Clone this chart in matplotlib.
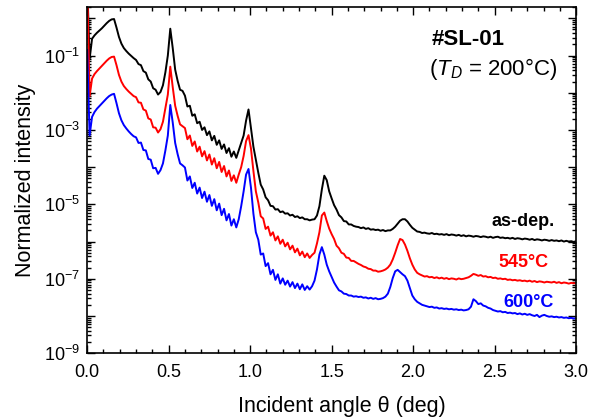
import numpy as np
import matplotlib
matplotlib.use("Agg")
import matplotlib.pyplot as plt
from matplotlib.ticker import FixedLocator, LogLocator, FuncFormatter, MultipleLocator

plt.rcParams['font.family'] = ['Liberation Sans', 'DejaVu Sans']
plt.rcParams['mathtext.fontset'] = 'custom'
plt.rcParams['mathtext.rm'] = 'Liberation Sans'
plt.rcParams['mathtext.it'] = 'Liberation Sans:italic'
plt.rcParams['mathtext.bf'] = 'Liberation Sans:bold'

# incident angle grid (deg), one sample every 0.015 deg
theta = np.round(np.arange(201) * 0.015, 3)

# log10 of normalized intensity
as_dep = [
    1.0, -1.10, -0.55, -0.46, -0.39, -0.33, -0.27, -0.20, -0.13, -0.07,
    -0.03, -0.02, -0.25, -0.50, -0.68, -0.80, -0.88, -0.95, -1.01, -1.07,
    -1.12, -1.23, -1.26, -1.42, -1.46, -1.64, -1.70, -1.88, -1.92, -2.05,
    -1.98, -1.80, -1.45, -1.00, -0.28, -0.80, -1.38, -1.68, -1.92, -1.95,
    -2.08, -2.37, -2.35, -2.62, -2.58, -2.82, -2.78, -3.00, -2.93, -3.14,
    -3.04, -3.28, -3.16, -3.40, -3.28, -3.51, -3.39, -3.62, -3.49, -3.72,
    -3.58, -3.75, -3.55, -3.35, -3.15, -2.75, -2.45, -2.95, -3.45, -3.80,
    -4.15, -4.47, -4.60, -4.81, -4.89, -5.04, -5.05, -5.14, -5.13, -5.21,
    -5.19, -5.25, -5.24, -5.30, -5.28, -5.34, -5.32, -5.37, -5.35, -5.40,
    -5.40, -5.43, -5.41, -5.40, -5.30, -5.05, -4.60, -4.23, -4.35, -4.65,
    -4.84, -5.02, -5.14, -5.29, -5.35, -5.45, -5.46, -5.54, -5.54, -5.58,
    -5.60, -5.61, -5.64, -5.62, -5.66, -5.64, -5.68, -5.67, -5.69, -5.68,
    -5.71, -5.69, -5.72, -5.70, -5.70, -5.66, -5.60, -5.52, -5.44, -5.40,
    -5.40, -5.46, -5.55, -5.63, -5.68, -5.73, -5.74, -5.77, -5.76, -5.78,
    -5.79, -5.77, -5.80, -5.79, -5.81, -5.80, -5.82, -5.80, -5.83, -5.81,
    -5.82, -5.84, -5.82, -5.85, -5.83, -5.86, -5.84, -5.85, -5.87, -5.85,
    -5.86, -5.88, -5.86, -5.87, -5.89, -5.87, -5.90, -5.88, -5.87, -5.90,
    -5.89, -5.91, -5.90, -5.92, -5.90, -5.93, -5.91, -5.92, -5.94, -5.92,
    -5.93, -5.95, -5.93, -5.96, -5.94, -5.95, -5.97, -5.95, -5.96, -5.98,
    -5.96, -5.98, -5.97, -5.99, -5.97, -6.00, -5.98, -6.00, -5.99, -6.01,
    -5.99,
]

ann_545 = [
    1.0, -2.10, -1.62, -1.50, -1.42, -1.35, -1.28, -1.21, -1.14, -1.08,
    -1.04, -1.03, -1.26, -1.52, -1.70, -1.82, -1.90, -1.97, -2.03, -2.09,
    -2.12, -2.26, -2.27, -2.45, -2.48, -2.69, -2.72, -2.93, -2.94, -3.07,
    -2.98, -2.78, -2.42, -2.05, -1.30, -1.85, -2.35, -2.62, -2.85, -2.90,
    -2.95, -3.25, -3.15, -3.43, -3.31, -3.58, -3.45, -3.71, -3.57, -3.82,
    -3.66, -3.93, -3.76, -4.03, -3.86, -4.13, -3.97, -4.25, -4.09, -4.37,
    -4.22, -4.42, -4.20, -4.00, -3.70, -3.30, -3.14, -3.50, -4.10, -4.65,
    -4.95, -5.32, -5.38, -5.66, -5.60, -5.84, -5.75, -5.97, -5.86, -6.06,
    -5.95, -6.13, -6.03, -6.21, -6.11, -6.29, -6.19, -6.37, -6.27, -6.42,
    -6.32, -6.44, -6.36, -6.30, -6.05, -5.75, -5.30, -5.22, -5.45, -5.65,
    -5.80, -5.93, -6.11, -6.18, -6.30, -6.33, -6.43, -6.44, -6.52, -6.52,
    -6.56, -6.60, -6.63, -6.67, -6.69, -6.73, -6.74, -6.78, -6.78, -6.81,
    -6.80, -6.78, -6.75, -6.70, -6.62, -6.48, -6.30, -6.10, -5.93, -5.96,
    -6.08, -6.25, -6.45, -6.62, -6.75, -6.84, -6.88, -6.91, -6.94, -6.93,
    -6.96, -6.95, -6.98, -6.96, -6.99, -6.97, -7.00, -6.98, -7.01, -6.99,
    -7.00, -7.02, -6.99, -7.01, -7.00, -6.98, -6.96, -6.92, -6.87, -6.89,
    -6.92, -6.90, -6.94, -6.93, -6.96, -6.95, -6.98, -6.97, -7.00, -6.99,
    -7.01, -7.00, -7.03, -7.02, -7.04, -7.03, -7.05, -7.04, -7.06, -7.05,
    -7.07, -7.05, -7.08, -7.06, -7.09, -7.07, -7.08, -7.10, -7.08, -7.09,
    -7.10, -7.08, -7.11, -7.09, -7.12, -7.10, -7.11, -7.13, -7.11, -7.12,
    -7.12,
]

ann_600 = [
    -0.85, -3.15, -2.65, -2.52, -2.43, -2.36, -2.29, -2.22, -2.15, -2.09,
    -2.05, -2.03, -2.28, -2.55, -2.74, -2.87, -2.96, -3.04, -3.11, -3.17,
    -3.20, -3.35, -3.34, -3.54, -3.55, -3.78, -3.80, -4.03, -4.02, -4.18,
    -4.08, -3.90, -3.55, -3.15, -2.33, -2.80, -3.35, -3.65, -3.90, -3.95,
    -4.01, -4.36, -4.25, -4.56, -4.42, -4.71, -4.55, -4.83, -4.66, -4.93,
    -4.75, -5.04, -4.86, -5.16, -4.98, -5.29, -5.12, -5.43, -5.26, -5.57,
    -5.40, -5.62, -5.40, -5.05, -4.65, -4.20, -4.05, -4.55, -5.25, -5.75,
    -5.95, -6.35, -6.32, -6.66, -6.58, -6.88, -6.76, -7.03, -6.88, -7.13,
    -6.99, -7.16, -7.05, -7.21, -7.09, -7.25, -7.13, -7.28, -7.15, -7.30,
    -7.20, -7.29, -7.20, -7.05, -6.75, -6.35, -6.15, -6.35, -6.62, -6.80,
    -6.95, -7.10, -7.21, -7.31, -7.34, -7.40, -7.41, -7.45, -7.45, -7.48,
    -7.47, -7.49, -7.48, -7.51, -7.50, -7.53, -7.51, -7.54, -7.52, -7.55,
    -7.54, -7.52, -7.48, -7.40, -7.22, -6.98, -6.80, -6.76, -6.82, -6.88,
    -6.93, -7.05, -7.25, -7.45, -7.55, -7.62, -7.66, -7.70, -7.72, -7.74,
    -7.76, -7.75, -7.78, -7.77, -7.80, -7.79, -7.81, -7.80, -7.82, -7.81,
    -7.83, -7.82, -7.84, -7.83, -7.85, -7.84, -7.82, -7.75, -7.55, -7.60,
    -7.68, -7.66, -7.72, -7.74, -7.78, -7.80, -7.84, -7.86, -7.88, -7.87,
    -7.90, -7.89, -7.92, -7.91, -7.93, -7.92, -7.95, -7.93, -7.96, -7.94,
    -7.97, -7.95, -7.98, -8.00, -7.97, -8.03, -7.99, -7.97, -8.00, -8.02,
    -8.01, -8.03, -8.02, -8.04, -8.03, -8.05, -8.04, -8.06, -8.05, -8.07,
    -8.06,
]

series = [("as-dep.", as_dep, "black"),
          ("545°C", ann_545, "#ff0000"),
          ("600°C", ann_600, "#0000ff")]
# right end (deg) and vertical centre of each curve label
label_pos = [(2.87, 3.5e-6), (2.83, 2.8e-7), (2.86, 2.3e-8)]

fig = plt.figure(figsize=(5.97, 4.17), dpi=100)
ax = fig.add_axes([0.146, 0.153, 0.819, 0.830])

for (name, vals, col), (lx, ly) in zip(series, label_pos):
    ax.plot(theta, 10.0 ** np.array(vals), color=col, lw=1.4)
    ax.text(lx, ly, name, color=col, fontsize=13, fontweight="bold",
            ha="right", va="center")

ax.set_yscale("log")
ax.set_xlim(0, 3.0)
ax.set_ylim(1e-9, 2.0)

ax.xaxis.set_major_locator(MultipleLocator(0.5))
ax.xaxis.set_minor_locator(MultipleLocator(0.1))
ax.xaxis.set_major_formatter(FuncFormatter(lambda v, p: f"{v:.1f}"))

ax.yaxis.set_major_locator(FixedLocator([10.0 ** k for k in range(-9, 1)]))
ax.yaxis.set_minor_locator(LogLocator(base=10, subs=np.arange(2, 10), numticks=20))
ax.yaxis.set_major_formatter(FuncFormatter(
    lambda v, p: f"$10^{{{int(round(np.log10(v)))}}}$" if int(round(np.log10(v))) % 2 else ""))

ax.tick_params(which="both", direction="in", top=True, right=True, width=1.0,
               labelsize=13)
ax.tick_params(which="major", length=6)
ax.tick_params(which="minor", length=3)
ax.tick_params(axis="x", pad=8)
ax.tick_params(axis="y", pad=5)
for s in ax.spines.values():
    s.set_linewidth(1.2)

ax.set_xlabel("Incident angle θ (deg)", fontsize=15.5, labelpad=6)
ax.xaxis.set_label_coords(0.52, -0.125)
ax.set_ylabel("Normalized intensity", fontsize=15.5, labelpad=6)

ax.text(0.705, 0.905, "#SL-01", transform=ax.transAxes, fontsize=16,
        fontweight="bold", ha="left", va="center")
ax.text(0.700, 0.822, "($T_D$ = 200°C)", transform=ax.transAxes, fontsize=16,
        ha="left", va="center")

fig.savefig("out.png", dpi=100)
